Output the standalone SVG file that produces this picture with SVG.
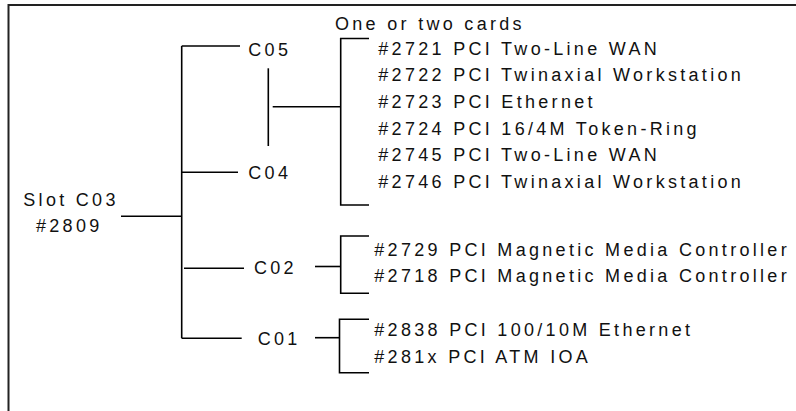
<svg xmlns="http://www.w3.org/2000/svg" width="796" height="411" viewBox="0 0 796 411">
<style>
  text { font-family: "Liberation Sans", Arial, sans-serif; font-size: 18px; letter-spacing: 3.3px; fill: #111; }
  .ln { stroke: #000; stroke-width: 1.6; fill: none; }
  .frame { stroke: #222; stroke-width: 2; fill: none; }
</style>
<rect width="796" height="411" fill="#fff"/>
<g id="frame">
  <path class="frame" d="M8.5,411 V5 H796"/>
</g>
<g id="connectors">
  <!-- main trunk -->
  <path class="ln" d="M181.7,46 V338.3"/>
  <path class="ln" d="M121,216.3 H181.7"/>
  <path class="ln" d="M181.7,46 H240"/>
  <path class="ln" d="M181.7,172.3 H238"/>
  <path class="ln" d="M184,268.3 H244"/>
  <path class="ln" d="M181.7,338.3 H241.7"/>
  <!-- C05/C04 bracket -->
  <path class="ln" d="M268.3,68.3 V146"/>
  <path class="ln" d="M272.7,106.7 H340.7"/>
  <path class="ln" d="M369,38.5 H340.7 V205 H369"/>
  <!-- C02 bracket -->
  <path class="ln" d="M315,266.5 H340.7"/>
  <path class="ln" d="M369,236 H340.7 V293.3 H369"/>
  <!-- C01 bracket -->
  <path class="ln" d="M315,337.7 H339.5"/>
  <path class="ln" d="M369,319.3 H339.5 V372.7 H369"/>
</g>
<g id="slot-c03">
  <text x="23.3" y="205.7">Slot C03</text>
  <text x="36" y="231.7">#2809</text>
</g>
<g id="c05"><text x="248.3" y="55.7">C05</text></g>
<g id="c04"><text x="248.3" y="179.3">C04</text></g>
<g id="c02"><text x="254" y="274">C02</text></g>
<g id="c01"><text x="257.7" y="345">C01</text></g>
<g id="cards-c05-c04">
  <text x="335" y="30">One or two cards</text>
  <text x="378.3" y="54.7">#2721 PCI Two-Line WAN</text>
  <text x="378.3" y="81.3">#2722 PCI Twinaxial Workstation</text>
  <text x="378.3" y="108">#2723 PCI Ethernet</text>
  <text x="378.3" y="134.7">#2724 PCI 16/4M Token-Ring</text>
  <text x="378.3" y="161.3">#2745 PCI Two-Line WAN</text>
  <text x="378.3" y="188">#2746 PCI Twinaxial Workstation</text>
</g>
<g id="cards-c02">
  <text x="374.3" y="255.5">#2729 PCI Magnetic Media Controller</text>
  <text x="374.3" y="282">#2718 PCI Magnetic Media Controller</text>
</g>
<g id="cards-c01">
  <text x="374.3" y="335.7">#2838 PCI 100/10M Ethernet</text>
  <text x="374.3" y="362.7">#281x PCI ATM IOA</text>
</g>
</svg>
